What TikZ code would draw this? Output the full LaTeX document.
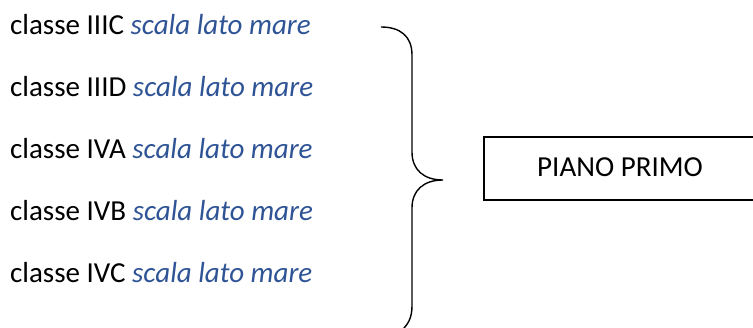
\documentclass[tikz,border=0pt]{standalone}
\usepackage{fontspec}
\setmainfont{Carlito}
\definecolor{scalablue}{RGB}{47,84,150}
\tikzset{
  room/.style={anchor=base west, inner sep=0pt, font=\fontsize{29}{34}\selectfont},
  floorbox/.style={draw, line width=1.3pt, minimum width=276pt, minimum height=63pt,
    inner sep=0pt, text height=16.4pt, text depth=0pt, font=\fontsize{29}{34}\selectfont},
  bracestroke/.style={line width=1.4pt}
}
\newcommand{\scala}{\textcolor{scalablue}{\itshape scala lato mare}}
\begin{document}
\begin{tikzpicture}[x=1pt,y=-1pt]
  \useasboundingbox (0,0) rectangle (753,328);
  \clip (0,0) rectangle (753,328);
  \fill[white] (0,0) rectangle (753,328);

  % classrooms on the first floor
  \node[room] (c1) at (10,35)    {classe IIIC \scala};
  \node[room] (c2) at (10,96.9)  {classe IIID \scala};
  \node[room] (c3) at (10,158.8) {classe IVA \scala};
  \node[room] (c4) at (10,220.6) {classe IVB \scala};
  \node[room] (c5) at (10,282.5) {classe IVC \scala};

  % floor label
  \node[floorbox] (floor) at (622,168.5) {\hspace*{-4pt}PIANO PRIMO};

  % curly brace grouping the rooms
  \coordinate (tip) at (443,180);
  \draw[bracestroke] (381,27) .. controls (400,27) and (412,36) .. (412,55)
    -- (412,152) .. controls (412,170) and (424,180) .. (tip)
    .. controls (424,180) and (412,190) .. (412,208)
    -- (412,306) .. controls (412,318) and (408,325) .. (400,332);
\end{tikzpicture}
\end{document}
